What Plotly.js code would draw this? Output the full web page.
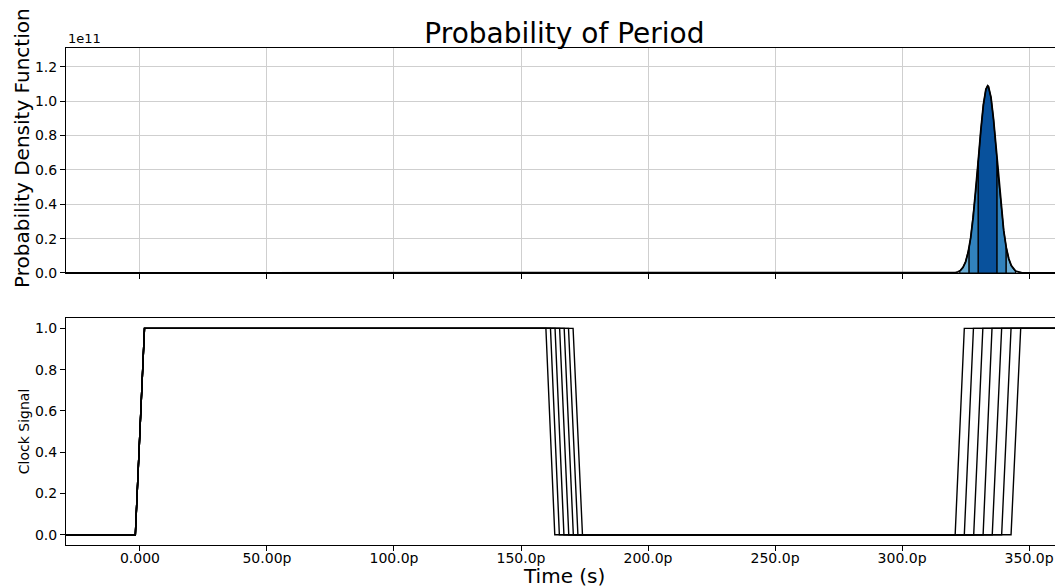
<!DOCTYPE html>
<html>
<head>
<meta charset="utf-8">
<script src="https://cdn.plot.ly/plotly-3.0.1.min.js"></script>
<style>html,body{margin:0;padding:0;background:#fff;}#chart{width:1055px;height:587px;}</style>
</head>
<body>
<div id="chart"></div>
<script>
// ---- data (time in ps) ----
const pdfTime = [-40, 317, 318, 319, 320, 321, 322, 322.7, 323, 324, 325, 326, 326.4, 327, 328, 329, 330, 331, 332, 333, 333.7, 334, 335, 336, 337, 337.4, 338, 339, 340, 341, 342, 343, 344, 344.7, 345, 346, 347, 348, 349, 350, 370];
const pdfValue = [0, 0, 0.0001e11, 0.0003e11, 0.001e11, 0.0027e11, 0.0066e11, 0.0119e11, 0.015e11, 0.033e11, 0.065e11, 0.119e11, 0.149e11, 0.204e11, 0.325e11, 0.478e11, 0.654e11, 0.830e11, 0.979e11, 1.07e11, 1.09e11, 1.086e11, 1.023e11, 0.895e11, 0.726e11, 0.654e11, 0.547e11, 0.382e11, 0.248e11, 0.149e11, 0.083e11, 0.043e11, 0.021e11, 0.0119e11, 0.009e11, 0.0038e11, 0.0015e11, 0.0005e11, 0.0002e11, 0, 0];
const bandEdges = [322.7, 326.4, 330, 337.4, 341, 344.7];
const bandColors = ["#6baed6", "#3182bd", "#08519c", "#3182bd", "#6baed6"];

const initRise = [-1.8, 1.8];
const fallStart = [159.8, 161.6, 163.4, 165.2, 167.0, 168.7, 170.5];
const fallEnd   = [163.3, 165.1, 166.9, 168.8, 170.6, 172.4, 174.2];
const riseStart = [320.9, 324.5, 328.2, 331.9, 335.5, 339.2, 342.9];
const riseEnd   = [324.5, 328.1, 331.8, 335.4, 339.2, 342.9, 346.7];
const timeStart = -40, timeEnd = 370;

const xTickVals = [0, 50, 100, 150, 200, 250, 300, 350];
const xTickText = ["0.000", "50.00p", "100.0p", "150.0p", "200.0p", "250.0p", "300.0p", "350.0p"];
const pdfTickVals = [0, 0.2e11, 0.4e11, 0.6e11, 0.8e11, 1.0e11, 1.2e11];
const pdfTickText = ["0.0", "0.2", "0.4", "0.6", "0.8", "1.0", "1.2"];
const clkTickVals = [0, 0.2, 0.4, 0.6, 0.8, 1.0];
const clkTickText = ["0.0", "0.2", "0.4", "0.6", "0.8", "1.0"];

// ---- traces ----
const traces = [];
for (let b = 0; b < bandEdges.length - 1; b++) {
  const a = bandEdges[b], z = bandEdges[b + 1];
  const xs = [], ys = [];
  for (let i = 0; i < pdfTime.length; i++) {
    if (pdfTime[i] >= a && pdfTime[i] <= z) { xs.push(pdfTime[i]); ys.push(pdfValue[i]); }
  }
  traces.push({
    x: [a].concat(xs, [z, a]), y: [0].concat(ys, [0, 0]),
    xaxis: "x", yaxis: "y", mode: "lines", fill: "toself",
    fillcolor: bandColors[b], line: {color: "#000", width: 1.2},
    hoverinfo: "skip", showlegend: false
  });
}
traces.push({
  x: pdfTime, y: pdfValue, xaxis: "x", yaxis: "y", mode: "lines",
  line: {color: "#000", width: 1.8}, showlegend: false
});
for (let k = 0; k < fallStart.length; k++) {
  traces.push({
    x: [timeStart, initRise[0], initRise[1], fallStart[k], fallEnd[k], riseStart[k], riseEnd[k], timeEnd],
    y: [0, 0, 1, 1, 0, 0, 1, 1],
    xaxis: "x2", yaxis: "y2", mode: "lines",
    line: {color: "#000", width: 1.4}, showlegend: false
  });
}

const font = {family: "DejaVu Sans, sans-serif", color: "#000"};
const axBase = {
  showline: true, mirror: true, linecolor: "#000", linewidth: 1,
  ticks: "outside", ticklen: 5, tickwidth: 1, tickcolor: "#000",
  tickfont: {family: font.family, size: 14, color: "#000"}, zeroline: false
};
const xRange = [-29.1, 360.2];

const layout = {
  width: 1055, height: 587,
  margin: {l: 66, r: 0, t: 48, b: 42},
  paper_bgcolor: "#fff", plot_bgcolor: "#fff",
  font: font, showlegend: false,
  title: {text: "Probability of Period", font: {family: font.family, size: 28, color: "#000"},
          xref: "container", x: 0.535, xanchor: "center", yref: "container", y: 0.944, yanchor: "middle"},
  xaxis: Object.assign({}, axBase, {domain: [0, 1], anchor: "y", range: xRange, tickvals: xTickVals,
          ticktext: xTickText, showticklabels: false, showgrid: true, gridcolor: "#cfcfcf", gridwidth: 1}),
  yaxis: Object.assign({}, axBase, {domain: [0.5473, 1], anchor: "x", range: [0, 1.31e11],
          tickvals: pdfTickVals, ticktext: pdfTickText, showgrid: true, gridcolor: "#cfcfcf", gridwidth: 1}),
  xaxis2: Object.assign({}, axBase, {domain: [0, 1], anchor: "y2", range: xRange, tickvals: xTickVals,
          ticktext: xTickText, showgrid: false, ticklabelstandoff: -5}),
  yaxis2: Object.assign({}, axBase, {domain: [0, 0.4567], anchor: "x2", range: [-0.05, 1.05],
          tickvals: clkTickVals, ticktext: clkTickText, showgrid: false}),
  annotations: [
    {text: "1e11", xref: "paper", yref: "paper", x: 0, y: 1, xanchor: "left", yanchor: "bottom",
     showarrow: false, font: {family: font.family, size: 13, color: "#000"}, yshift: 0},
    {text: "Probability Density Function", xref: "paper", yref: "paper", x: -0.0445, y: 0.799,
     xanchor: "center", yanchor: "middle", textangle: -90, showarrow: false,
     font: {family: font.family, size: 20, color: "#000"}},
    {text: "Clock Signal", xref: "paper", yref: "paper", x: -0.0425, y: 0.229,
     xanchor: "center", yanchor: "middle", textangle: -90, showarrow: false,
     font: {family: font.family, size: 14, color: "#000"}},
    {text: "Time (s)", xref: "paper", yref: "paper", x: 0.5035, y: -0.0624,
     xanchor: "center", yanchor: "middle", showarrow: false,
     font: {family: font.family, size: 20, color: "#000"}}
  ]
};

Plotly.newPlot("chart", traces, layout, {displayModeBar: false, staticPlot: true});
</script>
</body>
</html>
